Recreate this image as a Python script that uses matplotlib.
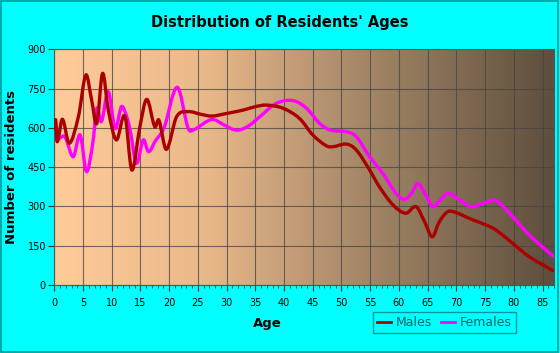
import numpy as np
import matplotlib
matplotlib.use("Agg")
import matplotlib.pyplot as plt
from matplotlib.colors import LinearSegmentedColormap
from matplotlib.patches import Rectangle, PathPatch
from matplotlib.path import Path
from matplotlib.lines import Line2D

# ---- data ----
male_ages = [0, 0.25, 0.5, 1.4, 2.6, 4.2, 5.5, 6.5, 7.4, 8.4, 9.4, 10.8, 12.3, 13.5,
             14.9, 16.1, 17.5, 18.2, 19.5, 21.3, 23.3, 25.5, 27.4, 30.0, 32.9, 35.0,
             36.9, 39.8, 42.7, 45.0, 47.4, 48.5, 50.9, 52.6, 54.9, 56.6, 59.0, 61.2,
             63.0, 64.5, 65.8, 67.0, 68.5, 70.0, 72.6, 75.2, 76.9, 79.8, 82.7, 86.8]
male_vals = [600, 630, 547, 633, 541, 643, 802, 706, 617, 808, 668, 554, 645, 439,
             604, 709, 604, 630, 518, 643, 662, 652, 645, 655, 668, 681,
             687, 675, 636, 573, 531, 528, 538, 515, 439, 375, 305, 274,
             299, 240, 184, 240, 280, 276, 251, 229, 210, 159, 108, 55]

female_ages = [0, 0.5, 1.6, 2.0, 3.3, 4.5, 5.6, 6.7, 7.4, 8.2, 9.4, 10.6, 11.7, 12.6,
               13.2, 14.3, 15.5, 16.4, 17.6, 19.1, 21.4, 23.3, 24.2, 27.4, 29.5, 31.1,
               32.3, 34.0, 35.8, 38.7, 41.6, 43.9, 46.2, 48.0, 50.9, 52.6, 54.9, 57.2,
               59.5, 61.0, 62.2, 63.3, 64.5, 65.9, 67.0, 68.5, 70.6, 72.6, 74.9, 76.9,
               79.8, 82.7, 86.8]
female_vals = [560, 555, 569, 560, 490, 573, 433, 541, 675, 624, 738, 598, 681, 643,
               592, 465, 554, 509, 550, 600, 755, 598, 592, 632, 612, 594,
               592, 610, 643, 694, 704, 675, 617, 592, 585, 566, 490, 426,
               350, 327, 350, 388, 350, 299, 320, 350, 325, 299, 314, 322,
               261, 191, 111]

y_ticks = [0, 150, 300, 450, 600, 750, 900]
x_ticks = list(range(0, 90, 5))


def smooth_path(xs, ys):
    """Cubic Hermite Bezier path through the given data points (no new data)."""
    x = np.asarray(xs, float)
    y = np.asarray(ys, float)
    n = len(x)
    m = np.zeros(n)
    m[0] = (y[1] - y[0]) / (x[1] - x[0])
    m[-1] = (y[-1] - y[-2]) / (x[-1] - x[-2])
    for i in range(1, n - 1):
        m[i] = (y[i + 1] - y[i - 1]) / (x[i + 1] - x[i - 1])
    verts = [(x[0], y[0])]
    codes = [Path.MOVETO]
    for i in range(n - 1):
        h = x[i + 1] - x[i]
        verts += [(x[i] + h / 3, y[i] + m[i] * h / 3),
                  (x[i + 1] - h / 3, y[i + 1] - m[i + 1] * h / 3),
                  (x[i + 1], y[i + 1])]
        codes += [Path.CURVE4] * 3
    return Path(verts, codes)


# ---- figure ----
W, H = 560, 353
fig = plt.figure(figsize=(W / 100, H / 100), dpi=100, facecolor="#00FFFF")
fig.patches.append(Rectangle((0.002, 0.003), 0.995, 0.994, transform=fig.transFigure,
                             fill=False, edgecolor="#009999", linewidth=1.2))

ax = fig.add_axes([54.3 / W, (H - 285) / H, (554 - 54.3) / W, (285 - 49.3) / H])
ax.set_xlim(0, 87)
ax.set_ylim(0, 900)

cmap = LinearSegmentedColormap.from_list(
    "bg", [(0.0, "#FFCC99"), (0.3, "#EAB98A"), (0.6, "#A88A6A"), (1.0, "#5E4E3D")])
grad = np.linspace(0, 1, 256).reshape(1, -1)
ax.imshow(grad, cmap=cmap, aspect="auto", extent=[0, 87, 0, 900], zorder=0)

ax.set_xticks(x_ticks)
ax.set_xticks(range(0, 88), minor=True)
ax.set_yticks(y_ticks)
ax.grid(True, which="major", color="#444444", linewidth=0.8, alpha=0.75, zorder=1)

male_color = "#AA0000"
female_color = "#FF00FF"
ax.add_patch(PathPatch(smooth_path(female_ages, female_vals), fill=False,
                       edgecolor=female_color, lw=2.4, joinstyle="round",
                       capstyle="round", zorder=2))
ax.add_patch(PathPatch(smooth_path(male_ages, male_vals), fill=False,
                       edgecolor=male_color, lw=2.4, joinstyle="round",
                       capstyle="round", zorder=3))

for s in ax.spines.values():
    s.set_color("#555555")
    s.set_linewidth(0.8)

ax.tick_params(axis="both", which="major", labelsize=7, length=4, width=0.8,
               color="#333333", direction="out", pad=2)
ax.tick_params(axis="x", which="minor", length=2.5, width=0.6, color="#333333",
               direction="out")
ax.tick_params(axis="x", which="major", pad=5)

fig.text(0.5, 1 - 22 / H, "Distribution of Residents' Ages", ha="center", va="center",
         fontsize=10.5, fontweight="bold")
fig.text(12 / W, 1 - 167 / H, "Number of residents", ha="center", va="center",
         rotation=90, fontsize=9.5, fontweight="bold")
fig.text(267 / W, 1 - 324 / H, "Age", ha="center", va="center", fontsize=9.5,
         fontweight="bold")

handles = [Line2D([], [], color=male_color, lw=2.0), Line2D([], [], color=female_color, lw=2.0)]
leg = fig.legend(handles, ["Males", "Females"], loc="lower left",
                 bbox_to_anchor=(367 / W, (H - 339) / H, 155 / W, 23 / H),
                 ncol=2, mode="expand", fontsize=9, frameon=True, fancybox=False,
                 handlelength=1.1, handletextpad=0.4, columnspacing=1.2,
                 borderpad=0.3)
leg.get_frame().set_edgecolor("#008080")
leg.get_frame().set_facecolor("#00FFFF")
leg.get_frame().set_linewidth(1.0)
for t in leg.get_texts():
    t.set_color("#006666")

fig.savefig("out.png", dpi=100, facecolor=fig.get_facecolor())
